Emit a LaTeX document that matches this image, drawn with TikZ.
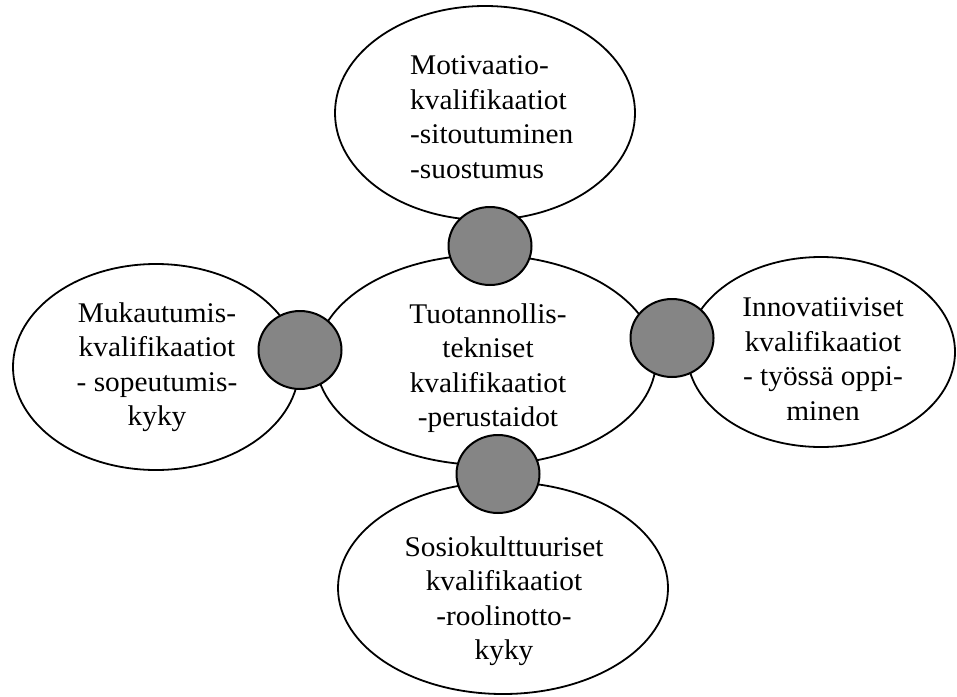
\documentclass[tikz,border=0pt]{standalone}
\usepackage{fontspec}
\setmainfont{Liberation Serif}[FakeStretch=1.03]
\usetikzlibrary{shapes.geometric}
\definecolor{dotgray}{gray}{0.52}
\tikzset{
  bubble/.style={draw, line width=1.8pt, shape=ellipse, inner sep=0pt},
  joint/.style={draw, line width=2pt, shape=ellipse, fill=dotgray, inner sep=0pt,
    minimum width=83pt, minimum height=78pt},
  txt/.style={inner sep=0pt, font=\fontsize{28.5}{34.5}\selectfont},
}
\begin{document}
\begin{tikzpicture}[x=1pt,y=-1pt]
\useasboundingbox (0,0) rectangle (957,696);
% ellipses
\node[bubble, minimum width=300pt, minimum height=214pt] (top) at (485,113) {};
\node[bubble, minimum width=340pt, minimum height=210pt] (mid) at (486,360) {};
\node[bubble, minimum width=286pt, minimum height=206pt] (left) at (156,367) {};
\node[bubble, minimum width=268pt, minimum height=190pt] (right) at (821,352) {};
\node[bubble, minimum width=330pt, minimum height=212pt] (bot) at (503,588) {};
% junction circles
\node[joint] (jt) at (490,246) {};
\node[joint] (jl) at (300,350) {};
\node[joint] (jr) at (672,338) {};
\node[joint] (jb) at (498,474) {};
% texts
\node[txt, align=left, anchor=west] (ttop) at (410,117) {Motivaatio-\\kvalifikaatiot\\-sitoutuminen\\-suostumus};
\node[txt, align=center] (tmid) at (488,368) {Tuotannollis-\\tekniset\\kvalifikaatiot\\-perustaidot};
\node[txt, align=center] (tleft) at (157,367) {Mukautumis-\\kvalifikaatiot\\- sopeutumis-\\kyky};
\node[txt, align=center] (tright) at (823,359) {Innovatiiviset\\kvalifikaatiot\\- työssä oppi-\\minen};
\node[txt, align=center] (tbot) at (504,601) {Sosiokulttuuriset\\kvalifikaatiot\\-roolinotto-\\kyky};
\end{tikzpicture}
\end{document}
